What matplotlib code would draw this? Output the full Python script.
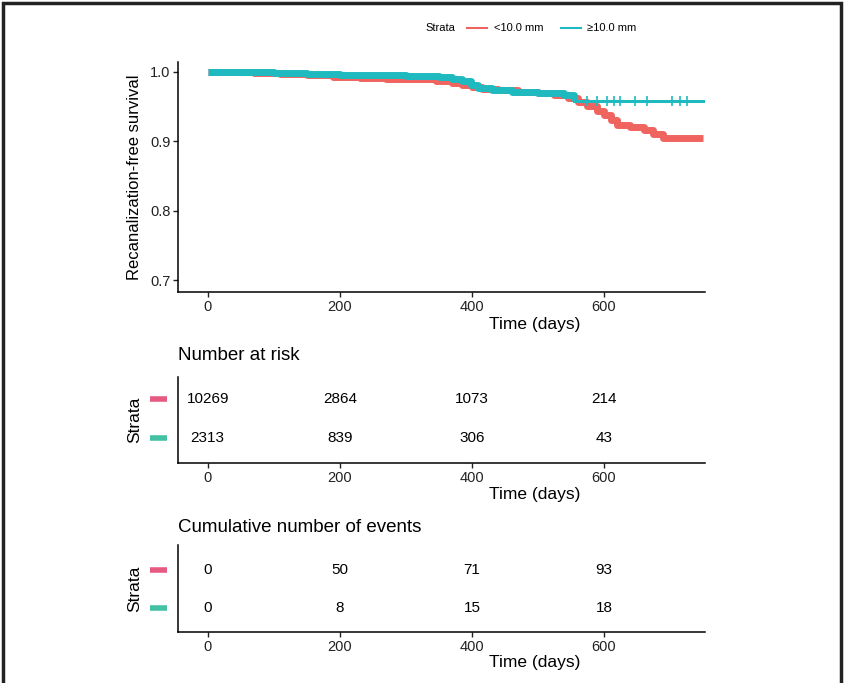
import matplotlib
matplotlib.use("Agg")
import matplotlib.pyplot as plt
from matplotlib.transforms import blended_transform_factory
from matplotlib.lines import Line2D
from matplotlib.patches import Rectangle

plt.rcParams['font.family'] = ['Liberation Sans', 'DejaVu Sans']

# survival curves (step data)
red_t = [0, 30, 70, 110, 150, 190, 230, 270, 310, 345,
         370, 385, 400, 415, 440, 470, 500, 525, 545, 560,
         575, 590, 600, 610, 620, 640, 660, 675, 690, 750]
red_s = [1.0, 0.999, 0.998, 0.997, 0.995, 0.993, 0.991, 0.990, 0.989, 0.987,
         0.984, 0.981, 0.978, 0.975, 0.973, 0.971, 0.969, 0.966, 0.962, 0.956,
         0.950, 0.944, 0.938, 0.931, 0.923, 0.920, 0.916, 0.911, 0.905, 0.905]
teal_t = [0, 50, 100, 150, 200, 250, 300, 350, 370, 385, 398, 410, 430, 460,
          500, 540, 555, 750]
teal_s = [1.0, 0.999, 0.998, 0.997, 0.996, 0.995, 0.994, 0.993, 0.990, 0.986,
          0.981, 0.977, 0.974, 0.971, 0.969, 0.967, 0.958, 0.958]
teal_censor = [575, 590, 605, 615, 625, 647, 665, 703, 715, 726]

strata = ['<10.0 mm', '≥10.0 mm']
risk_times = [0, 200, 400, 600]
at_risk = [[10269, 2864, 1073, 214], [2313, 839, 306, 43]]
cum_events = [[0, 50, 71, 93], [0, 8, 15, 18]]

red = '#F0645F'
teal = '#1FBAC0'
bar_cols = ['#E65A82', '#44C0A4']

W, H = 845, 683
fig = plt.figure(figsize=(W / 100, H / 100), dpi=100)


def box(x0, y0, x1, y1):
    return [x0 / W, 1 - y1 / H, (x1 - x0) / W, (y1 - y0) / H]


def style(a):
    for s in ['top', 'right']:
        a.spines[s].set_visible(False)
    for s in ['left', 'bottom']:
        a.spines[s].set_linewidth(1.1)
    a.tick_params(labelsize=10.5, length=3.5, width=1.0, colors='#222222',
                  labelcolor='#222222', pad=2)


xlim = (-45, 753)

# main survival plot
ax = fig.add_axes(box(178, 62, 705, 292))
ax.step(red_t, red_s, where='post', color=red, lw=5, solid_capstyle='butt')
ax.step(teal_t[:-1], teal_s[:-1], where='post', color=teal, lw=5,
        solid_capstyle='butt')
ax.step(teal_t[-2:], teal_s[-2:], where='post', color=teal, lw=2.2)
ax.plot(teal_censor, [teal_s[-1]] * len(teal_censor), ls='none', marker='+',
        ms=7, mew=1.2, color=teal)
ax.set_xlim(*xlim)
ax.set_ylim(0.683, 1.014)
ax.set_yticks([0.7, 0.8, 0.9, 1.0])
ax.set_yticklabels(['0.7', '0.8', '0.9', '1.0'])
ax.set_xticks(risk_times)
ax.set_ylabel('Recanalization-free survival', fontsize=12)
ax.yaxis.set_label_coords(-0.068, 0.5)
style(ax)
fig.text(535 / W, 1 - 325 / H, 'Time (days)', ha='center', va='center',
         fontsize=12.5)

# legend at top
fig.text(425 / W, 1 - 28 / H, 'Strata', ha='left', va='center', fontsize=8)
fig.add_artist(Line2D([467 / W, 487 / W], [1 - 28 / H] * 2, color=red, lw=1.5))
fig.text(494 / W, 1 - 28 / H, strata[0], ha='left', va='center', fontsize=8)
fig.add_artist(Line2D([561 / W, 581 / W], [1 - 28 / H] * 2, color=teal, lw=1.5))
fig.text(587 / W, 1 - 28 / H, strata[1], ha='left', va='center', fontsize=8)


def table(top, bottom, ylim, title, title_y, values, xlab_y):
    t = fig.add_axes(box(178, top, 705, bottom))
    t.set_xlim(*xlim)
    t.set_ylim(*ylim)
    for row, vals in enumerate(values):
        y = 2 - row
        for x, v in zip(risk_times, vals):
            t.text(x, y, str(v), ha='center', va='center', fontsize=11)
    t.set_xticks(risk_times)
    t.set_yticks([])
    style(t)
    tr = blended_transform_factory(fig.transFigure, t.transData)
    for row, c in enumerate(bar_cols):
        t.plot([150 / W, 167 / W], [2 - row] * 2, color=c, lw=4,
               transform=tr, clip_on=False, solid_capstyle='butt')
    t.set_ylabel('Strata', fontsize=12.5)
    t.yaxis.set_label_coords(-0.068, 0.5)
    fig.text(178 / W, 1 - title_y / H, title, ha='left', va='center',
             fontsize=13.5)
    fig.text(535 / W, 1 - xlab_y / H, 'Time (days)', ha='center',
             va='center', fontsize=12.5)
    return t


table(377, 463, (0.36, 2.56), 'Number at risk', 355, at_risk, 494)
table(545, 632, (0.37, 2.66), 'Cumulative number of events', 528,
      cum_events, 663)

# outer frame
fig.add_artist(Rectangle((3 / W, -0.1), (W - 7) / W, 1.1 - 3 / H,
                         transform=fig.transFigure, fill=False,
                         lw=2.5, ec='#222222'))

fig.savefig('out.png', dpi=100)
